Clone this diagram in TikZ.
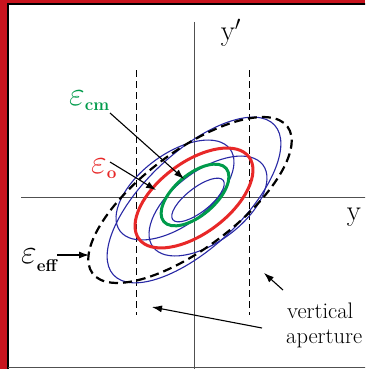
\RequirePackage{fix-cm}
\documentclass[tikz,border=0pt]{standalone}
\usetikzlibrary{arrows.meta}
\definecolor{frame}{RGB}{200,20,30}
\definecolor{axisgray}{RGB}{80,80,80}
\definecolor{ecmgreen}{RGB}{0,155,75}
\definecolor{eored}{RGB}{232,40,40}
\definecolor{beamblue}{RGB}{40,40,165}
\newcommand{\epsbig}{{\fontsize{34}{34}\selectfont$\varepsilon$}}
\newcommand{\subfont}{\fontsize{17}{17}\selectfont\bfseries}
\tikzset{
  axisline/.style={draw=axisgray, line width=1.1pt},
  aperture/.style={draw=black, line width=1.6pt, dash pattern=on 7pt off 4pt},
  effline/.style={draw=black, line width=2.2pt, dash pattern=on 9pt off 5pt},
  blueell/.style={draw=beamblue, line width=1.1pt},
  redell/.style={draw=eored, line width=3pt},
  greenell/.style={draw=ecmgreen, line width=3pt},
  pointer/.style={draw=black, line width=1.1pt, -{Latex[length=10pt,width=7pt]}},
  lbl/.style={inner sep=0pt, anchor=base west},
  txt/.style={inner sep=0pt, font=\fontsize{22.5}{25}\selectfont},
  axlbl/.style={inner sep=0pt, font=\fontsize{29}{29}\selectfont},
}
\begin{document}
\begin{tikzpicture}[x=1pt,y=-1pt]
\useasboundingbox (0,0) rectangle (365,369);
\begin{scope}
\clip (0,0) rectangle (365,369);
% frame
\fill[frame] (0,0) rectangle (365,369);
\fill[white] (8,4.5) rectangle (380,380);
\draw[black, line width=2pt] (8,380) -- (8,4.5) -- (380,4.5);
\draw[axisgray, line width=1.2pt] (8,367.6) -- (380,367.6);
% axes
\coordinate (vtop) at (194.5,22);
\coordinate (vbot) at (194.5,372);
\coordinate (hleft) at (21,197.5);
\coordinate (hright) at (372,197.5);
\draw[axisline] (vtop) -- (vbot);
\draw[axisline] (hleft) -- (hright);
\node[axlbl] (ylab) at (231,33) {y$'$};
\node[axlbl] (xlab) at (354,217) {y};
% vertical aperture lines
\coordinate (apL1) at (136.5,70);
\coordinate (apL2) at (136.5,315);
\coordinate (apR1) at (249.5,70);
\coordinate (apR2) at (249.5,315);
\draw[aperture] (apL1) -- (apL2);
\draw[aperture] (apR1) -- (apR2);
% blue ellipses
\draw[blueell, rotate around={43:(194,200)}] (194,200) ellipse [x radius=110, y radius=48];
\draw[blueell, rotate around={36.7:(175,190)}] (175,190) ellipse [x radius=68.6, y radius=35.6];
\draw[blueell, rotate around={36.7:(208,206)}] (208,206) ellipse [x radius=68.6, y radius=35.6];
\draw[blueell, rotate around={38:(198,200)}] (198,200) ellipse [x radius=32, y radius=12];
% red and green ellipses
\draw[redell, rotate around={36.7:(194,198)}] (194,198) ellipse [x radius=68.6, y radius=35.6];
\draw[greenell, rotate around={40.5:(195,195)}] (195,195) ellipse [x radius=41, y radius=20.5];
% effective emittance (dashed)
\draw[effline, rotate around={37:(190,200)}] (190,200) ellipse [x radius=122, y radius=48.3];
% labels
\node[lbl, text=ecmgreen] (ecm) at (69,105) {\epsbig\raisebox{-5pt}{\subfont cm}};
\node[lbl, text=eored] (eo) at (91,173) {\epsbig\raisebox{-5pt}{\subfont o}};
\node[lbl] (eeff) at (21,263) {\epsbig\raisebox{-8pt}{\subfont eff}};
\node[txt, anchor=base west] (vap) at (287,318) {vertical};
\node[txt, anchor=base west] (vap2) at (286,343) {aperture};
% arrows
\coordinate (cmstart) at (110,113);
\coordinate (cmtip) at (184,179);
\coordinate (ostart) at (110,162);
\coordinate (otip) at (156,190);
\coordinate (effstart) at (57,255);
\coordinate (efftip) at (89,255);
\coordinate (ap1start) at (262,328);
\coordinate (ap1tip) at (152,307);
\coordinate (ap2start) at (283,290);
\coordinate (ap2tip) at (264,273);
\draw[pointer] (cmstart) -- (cmtip);
\draw[pointer] (ostart) -- (otip);
\draw[pointer] (effstart) -- (efftip);
\draw[pointer] (ap1start) -- (ap1tip);
\draw[pointer] (ap2start) -- (ap2tip);
\end{scope}
\end{tikzpicture}
\end{document}
